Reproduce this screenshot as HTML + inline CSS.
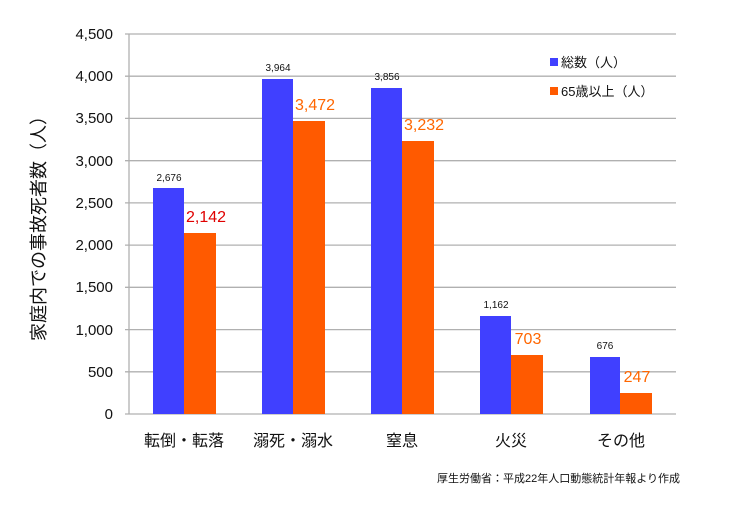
<!DOCTYPE html>
<html><head><meta charset="utf-8"><style>
body{margin:0;background:#fff;}
svg text{font-family:"Liberation Sans","Noto Sans CJK JP",sans-serif;}
</style></head><body>
<svg width="734" height="516" viewBox="0 0 734 516" xmlns="http://www.w3.org/2000/svg">
<g stroke="#b0b0b0" stroke-width="1.3">
<line x1="125" y1="34" x2="676" y2="34"/>
<line x1="125" y1="76.2" x2="676" y2="76.2"/>
<line x1="125" y1="118.4" x2="676" y2="118.4"/>
<line x1="125" y1="160.7" x2="676" y2="160.7"/>
<line x1="125" y1="202.9" x2="676" y2="202.9"/>
<line x1="125" y1="245.1" x2="676" y2="245.1"/>
<line x1="125" y1="287.3" x2="676" y2="287.3"/>
<line x1="125" y1="329.6" x2="676" y2="329.6"/>
<line x1="125" y1="371.8" x2="676" y2="371.8"/>
<line x1="125" y1="414" x2="676" y2="414"/>
<line x1="129" y1="34" x2="129" y2="414"/>
</g>
<g font-size="15" fill="#111" text-anchor="end">
<text x="113" y="39">4,500</text><text x="113" y="81">4,000</text><text x="113" y="123">3,500</text>
<text x="113" y="166">3,000</text><text x="113" y="208">2,500</text><text x="113" y="250">2,000</text>
<text x="113" y="292">1,500</text><text x="113" y="335">1,000</text><text x="113" y="377">500</text>
<text x="113" y="419">0</text>
</g>
<text transform="translate(45,224) rotate(-90)" font-size="18" text-anchor="middle" fill="#111">家庭内での事故死者数（人）</text>
<g fill="#4040ff">
<rect x="153" y="188" width="31" height="226"/>
<rect x="262" y="79" width="31" height="335"/>
<rect x="371" y="88" width="31" height="326"/>
<rect x="480" y="316" width="31" height="98"/>
<rect x="590" y="357" width="30" height="57"/>
</g>
<g fill="#ff5a00">
<rect x="184" y="233" width="32" height="181"/>
<rect x="293" y="121" width="32" height="293"/>
<rect x="402" y="141" width="32" height="273"/>
<rect x="511" y="355" width="32" height="59"/>
<rect x="620" y="393" width="32" height="21"/>
</g>
<g font-size="10" fill="#111" text-anchor="middle">
<text x="169" y="181">2,676</text><text x="278" y="71">3,964</text><text x="387" y="80">3,856</text>
<text x="496" y="308">1,162</text><text x="605" y="349">676</text>
</g>
<g font-size="16" text-anchor="middle">
<text x="206" y="222" fill="#e00000">2,142</text>
<text x="315" y="110" fill="#ff6600">3,472</text>
<text x="424" y="130" fill="#ff6600">3,232</text>
<text x="528" y="344" fill="#ff6600">703</text>
<text x="637" y="382" fill="#ff6600">247</text>
</g>
<g font-size="16" fill="#111" text-anchor="middle">
<text x="184" y="446">転倒・転落</text><text x="293" y="446">溺死・溺水</text><text x="402" y="446">窒息</text>
<text x="511" y="446">火災</text><text x="621" y="446">その他</text>
</g>
<rect x="550" y="58" width="8" height="8" fill="#4040ff"/>
<text x="561" y="67" font-size="13" fill="#111">総数（人）</text>
<rect x="550" y="87" width="8" height="8" fill="#ff5a00"/>
<text x="561" y="96" font-size="13" fill="#111">65歳以上（人）</text>
<text x="680" y="482" font-size="11" fill="#111" text-anchor="end">厚生労働省：平成22年人口動態統計年報より作成</text>
</svg>
</body></html>
